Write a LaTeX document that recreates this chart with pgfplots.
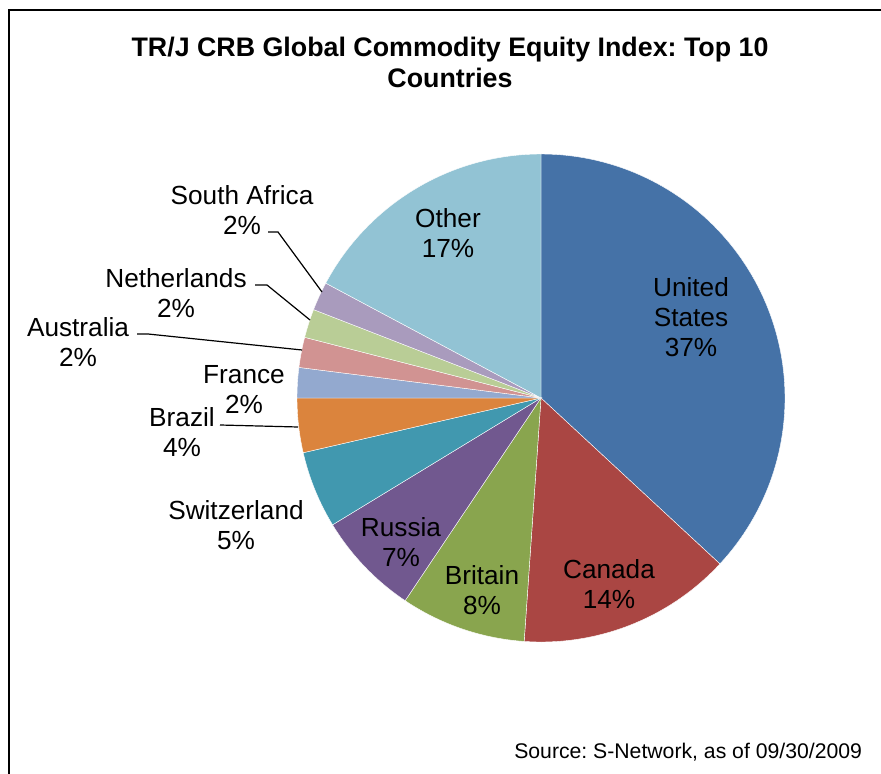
\documentclass[border=0pt]{standalone}
\usepackage{pgfplots}
\pgfplotsset{compat=1.18}
\usepackage{pgfplotstable}
\usepackage{fontspec}
\setmainfont{Liberation Sans}
\frenchspacing

\definecolor{slice0}{HTML}{4572A7}
\definecolor{slice1}{HTML}{AA4643}
\definecolor{slice2}{HTML}{89A54E}
\definecolor{slice3}{HTML}{71588F}
\definecolor{slice4}{HTML}{4198AF}
\definecolor{slice5}{HTML}{DB843D}
\definecolor{slice6}{HTML}{93A9CF}
\definecolor{slice7}{HTML}{D19392}
\definecolor{slice8}{HTML}{B9CD96}
\definecolor{slice9}{HTML}{A99BBD}
\definecolor{slice10}{HTML}{92C3D4}

\pgfplotstableread{
name value
UnitedStates 36.9
Canada 14.2
Britain 8.3
Russia 6.9
Switzerland 5.1
Brazil 3.6
France 2.0
Australia 2.0
Netherlands 1.9
SouthAfrica 1.9
Other 17.2
}\piedata

\newcommand\lab{\fontsize{13.1}{15}\selectfont}

\begin{document}
\begin{tikzpicture}
\begin{axis}[x=0.5pt, y=0.5pt, xmin=0, xmax=881, ymin=0, ymax=774,
  y dir=reverse, enlargelimits=false, hide axis, clip=false]
\pgfplotstablegetrowsof{\piedata}
\pgfmathtruncatemacro\N{\pgfplotsretval-1}
\def\cum{0}
\pgfplotsforeachungrouped \i in {0,...,\N}{%
  \pgfplotstablegetelem{\i}{value}\of\piedata
  \let\v\pgfplotsretval
  \pgfmathsetmacro\aStart{-90+3.6*\cum}%
  \pgfmathsetmacro\cum{\cum+\v}%
  \pgfmathsetmacro\aEnd{-90+3.6*\cum}%
  \edef\tmp{\noexpand\addplot[fill=slice\i, draw=white, line width=0.2pt, domain=\aStart:\aEnd, samples=90, no markers]
    ({541+244*cos(x)},{398+244*sin(x)}) -- (axis cs:541,398) -- cycle;}%
  \tmp
}
% leader lines
\addplot[black, line width=0.6pt, no markers] coordinates {(268,232) (278,232) (322,292)};
\addplot[black, line width=0.6pt, no markers] coordinates {(255,285) (267,285) (310,320)};
\addplot[black, line width=0.6pt, no markers] coordinates {(137,334) (148,334) (302,350)};
\addplot[black, line width=0.6pt, no markers] coordinates {(220,425) (298,427)};
% frame
\addplot[black, line width=1pt, no markers] coordinates {(9,790) (9,10) (900,10)};
% labels
\node[font=\lab, align=center] at (axis cs:691,317) {United\\States\\37\%};
\node[font=\lab, align=center] at (axis cs:609,584) {Canada\\14\%};
\node[font=\lab, align=center] at (axis cs:482,590) {Britain\\8\%};
\node[font=\lab, align=center] at (axis cs:401,542) {Russia\\7\%};
\node[font=\lab, align=center] at (axis cs:236,525) {Switzerland\\5\%};
\node[font=\lab, align=center] at (axis cs:182,432) {Brazil\\4\%};
\node[font=\lab, align=center] at (axis cs:244,390) {France\\2\%};
\node[font=\lab, align=center] at (axis cs:78,342) {Australia\\2\%};
\node[font=\lab, align=center] at (axis cs:176,293) {Netherlands\\2\%};
\node[font=\lab, align=center] at (axis cs:242,210) {South Africa\\2\%};
\node[font=\lab, align=center] at (axis cs:448,233.5) {Other\\17\%};
% title and source
\node[font=\bfseries\fontsize{13.4}{15.5}\selectfont, align=center] at (axis cs:450,62.5)
  {TR/J CRB Global Commodity Equity Index: Top 10\\Countries};
\node[font=\fontsize{10.6}{12}\selectfont, anchor=east] at (axis cs:869,752)
  {Source: S-Network, as of 09/30/2009};
\end{axis}
\pgfresetboundingbox
\useasboundingbox (0,0) rectangle (440.5pt,387pt);
\end{tikzpicture}
\end{document}
